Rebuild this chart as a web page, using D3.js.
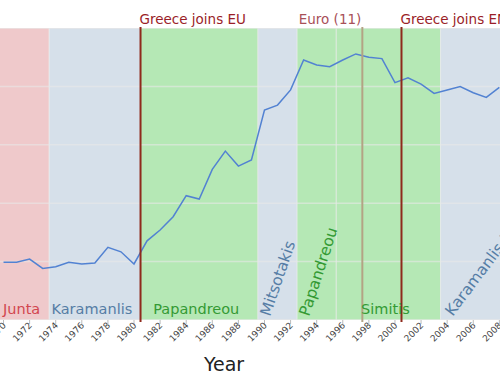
<!DOCTYPE html>
<html>
<head>
  <meta charset="UTF-8">
  <title>Greece - governments and debt</title>
  <script src="https://d3js.org/d3.v7.min.js"></script>
  <style>
    body { margin: 0; background: #fff; }
    text { font-family: "DejaVu Sans", Verdana, sans-serif; }
    .tick-label { font-size: 9px; fill: #444; }
    .band-label { font-size: 14.5px; }
    .event-label { font-size: 13.5px; }
  </style>
</head>
<body>
<div id="chart"></div>
<script>
// data
var years = [1970, 1971, 1972, 1973, 1974, 1975, 1976, 1977, 1978, 1979,
             1980, 1981, 1982, 1983, 1984, 1985, 1986, 1987, 1988, 1989,
             1990, 1991, 1992, 1993, 1994, 1995, 1996, 1997, 1998, 1999,
             2000, 2001, 2002, 2003, 2004, 2005, 2006, 2007, 2008];
var debt = [24.7, 24.7, 26.1, 22.1, 22.8, 24.7, 24.0, 24.4, 31.1, 29.2,
            24.0, 33.9, 38.5, 44.2, 53.2, 51.8, 64.5, 72.3, 65.9, 68.5,
            89.9, 92.0, 98.5, 111.3, 109.2, 108.4, 111.3, 113.9, 112.5, 111.9,
            101.6, 103.7, 101.0, 97.0, 98.5, 99.9, 97.3, 95.3, 99.6];

// governments (bands)
var govNames = ["Junta", "Karamanlis", "Papandreou", "Mitsotakis", "Papandreou", "Simitis", "Karamanlis II"];
var govStart = [1967, 1974, 1981, 1990, 1993, 1996, 2004];
var govEnd   = [1974, 1981, 1990, 1993, 1996, 2004, 2009];
var govParty = ["junta", "nd", "pasok", "nd", "pasok", "pasok", "nd"];

// events (vertical lines)
var eventNames = ["Greece joins EU", "Euro (11)", "Greece joins EMU"];
var eventYears = [1981, 1998, 2001];

var tickYears = [1970, 1972, 1974, 1976, 1978, 1980, 1982, 1984, 1986, 1988, 1990,
                 1992, 1994, 1996, 1998, 2000, 2002, 2004, 2006, 2008];
var yTicks = [0, 25, 50, 75, 100, 125];

var width = 500, height = 387;
var plotTop = 28, plotBottom = 320;

var partyFill  = { junta: "#efc9cb", nd: "#d6e0ea", pasok: "#b5e8b5" };
var partyText  = { junta: "#d2464f", nd: "#557da5", pasok: "#349a34" };
var rotation   = { 3: -71, 4: -72, 6: -53 };

var svg = d3.select("#chart").append("svg")
    .attr("width", width)
    .attr("height", height);

var x = d3.scaleLinear().domain([1970.23, 2008.55]).range([0, width]);
var y = d3.scaleLinear().domain([0, 125]).range([plotBottom, plotTop]);

svg.append("clipPath").attr("id", "plot")
  .append("rect").attr("x", 0).attr("y", plotTop).attr("width", width).attr("height", plotBottom - plotTop);

var plot = svg.append("g").attr("clip-path", "url(#plot)");

// government bands
var bands = govNames.map(function(n, i) {
  return { name: n, start: govStart[i], end: govEnd[i], party: govParty[i], i: i };
});

plot.selectAll("rect.band")
  .data(bands)
  .enter().append("rect")
    .attr("class", "band")
    .attr("x", function(d) { return x(d.start); })
    .attr("y", plotTop)
    .attr("width", function(d) { return x(d.end) - x(d.start); })
    .attr("height", plotBottom - plotTop)
    .style("fill", function(d) { return partyFill[d.party]; })
    .style("stroke", "rgba(235,235,235,0.6)")
    .style("stroke-width", 1);

// horizontal grid
plot.selectAll("line.grid")
  .data(yTicks)
  .enter().append("line")
    .attr("class", "grid")
    .attr("x1", 0).attr("x2", width)
    .attr("y1", function(d) { return y(d); })
    .attr("y2", function(d) { return y(d); })
    .style("stroke", "rgba(232,232,232,0.6)")
    .style("stroke-width", 1.5);

// event lines
var events = eventNames.map(function(n, i) { return { name: n, year: eventYears[i], i: i }; });

svg.selectAll("line.event")
  .data(events)
  .enter().append("line")
    .attr("class", "event")
    .attr("x1", function(d) { return x(d.year); })
    .attr("x2", function(d) { return x(d.year); })
    .attr("y1", plotTop - 1).attr("y2", plotBottom + 2)
    .style("stroke", function(d) { return d.i == 1 ? "#b3a384" : "#8e2a1c"; })
    .style("stroke-width", 2);

// debt line, points at mid-year
var line = d3.line()
    .x(function(d, i) { return x(years[i] + 0.5); })
    .y(function(d) { return y(d); });

plot.append("path")
    .datum(debt)
    .attr("d", line)
    .style("fill", "none")
    .style("stroke", "#5282d2")
    .style("stroke-width", 1.5);

// event labels
svg.selectAll("text.event-label")
  .data(events)
  .enter().append("text")
    .attr("class", "event-label")
    .attr("x", function(d) { return x(d.year) - 1; })
    .attr("y", 24)
    .attr("text-anchor", function(d) { return d.i == 1 ? "end" : "start"; })
    .style("fill", function(d) { return d.i == 1 ? "#a85058" : "#9a1e28"; })
    .text(function(d) { return d.name; });

// band labels
svg.selectAll("text.band-label")
  .data(bands)
  .enter().append("text")
    .attr("class", "band-label")
    .attr("text-anchor", function(d) { return rotation[d.i] ? "start" : "middle"; })
    .attr("transform", function(d) {
      if (rotation[d.i]) {
        return "translate(" + (x(d.start) + 12) + "," + 317 + ") rotate(" + rotation[d.i] + ")";
      }
      var x0 = Math.max(0, x(d.start)), x1 = Math.min(width, x(d.end));
      return "translate(" + ((x0 + x1) / 2 - 3) + "," + 314 + ")";
    })
    .style("font-size", function(d) { return rotation[d.i] ? "15.5px" : null; })
    .style("fill", function(d) { return partyText[d.party]; })
    .text(function(d) { return d.name; });

// x axis: ticks and rotated labels
var axis = svg.append("g");
axis.selectAll("line")
  .data(tickYears)
  .enter().append("line")
    .attr("x1", function(d) { return x(d + 0.5); })
    .attr("x2", function(d) { return x(d + 0.5); })
    .attr("y1", plotBottom).attr("y2", plotBottom + 4)
    .style("stroke", "#bbb");

axis.selectAll("text")
  .data(tickYears)
  .enter().append("text")
    .attr("class", "tick-label")
    .attr("text-anchor", "end")
    .attr("transform", function(d) {
      return "translate(" + (x(d + 0.5) + 3) + "," + 326 + ") rotate(-45)";
    })
    .text(function(d) { return d; });

svg.append("text")
    .attr("x", 224)
    .attr("y", 371)
    .attr("text-anchor", "middle")
    .style("font-size", "19px")
    .style("fill", "#222")
    .text("Year");
</script>
</body>
</html>
